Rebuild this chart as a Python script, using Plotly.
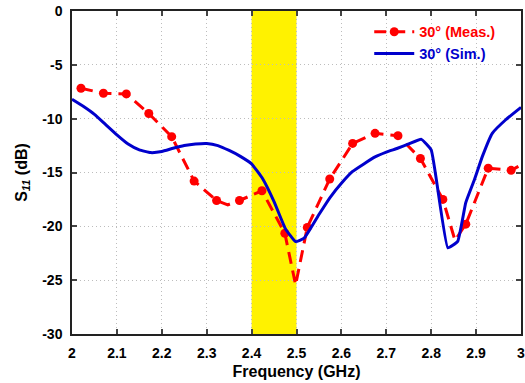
import plotly.graph_objects as go

# Measured S11 of the 30° configuration (GHz, dB)
meas_freq = [2.020, 2.070, 2.121, 2.171, 2.222, 2.272, 2.322, 2.347, 2.373, 2.423,
             2.474, 2.498, 2.524, 2.574, 2.625, 2.675, 2.726, 2.776, 2.826, 2.853,
             2.877, 2.927, 2.978, 3.000]
meas_s11 = [-7.18, -7.64, -7.70, -9.52, -11.67, -15.80, -17.60, -18.00, -17.60, -16.70,
            -20.64, -25.44, -20.10, -15.60, -12.30, -11.36, -11.58, -13.70, -17.50, -21.30,
            -19.80, -14.60, -14.80, -14.30]
# True where a sample carries a circle marker
meas_marked = [True, True, True, True, True, True, True, False, True, True,
               True, False, True, True, True, True, True, True, True, False,
               True, True, True, False]

# Simulated S11 of the 30° configuration (GHz, dB)
sim_freq = [2.000, 2.025, 2.050, 2.075, 2.100, 2.125, 2.150, 2.175, 2.200, 2.225,
            2.250, 2.275, 2.300, 2.325, 2.350, 2.375, 2.400, 2.425, 2.450, 2.475,
            2.498, 2.517, 2.550, 2.575, 2.600, 2.625, 2.650, 2.675, 2.700, 2.725,
            2.750, 2.778, 2.800, 2.837, 2.859, 2.877, 2.896, 2.914, 2.936, 2.966,
            3.000]
sim_s11 = [-8.20, -8.85, -9.60, -10.55, -11.50, -12.35, -12.90, -13.15, -13.05, -12.75,
           -12.50, -12.35, -12.30, -12.50, -12.95, -13.50, -14.20, -15.60, -17.70, -20.20,
           -21.42, -21.10, -18.90, -17.30, -16.00, -14.90, -14.20, -13.55, -13.10, -12.75,
           -12.35, -11.92, -12.90, -22.00, -21.40, -17.80, -15.70, -13.50, -11.36, -10.10,
           -8.95]

# Band of interest (GHz)
band = [2.4, 2.5]

x_ticks = [2.0, 2.1, 2.2, 2.3, 2.4, 2.5, 2.6, 2.7, 2.8, 2.9, 3.0]
x_labels = ["2", "2.1", "2.2", "2.3", "2.4", "2.5", "2.6", "2.7", "2.8", "2.9", "3"]
y_ticks = [0, -5, -10, -15, -20, -25, -30]
y_labels = ["0", "-5", "-10", "-15", "-20", "-25", "-30"]

RED = "#FF0000"
BLUE = "#0000CC"
FONT = "Arial, Liberation Sans, sans-serif"

fig = go.Figure()

fig.add_shape(type="rect", xref="x", yref="y",
              x0=band[0], x1=band[1], y0=y_ticks[-1], y1=y_ticks[0],
              fillcolor="#FFF200", line_width=0, layer="below")

fig.add_trace(go.Scatter(
    x=meas_freq, y=meas_s11, mode="lines+markers",
    name=f"<span style='color:{RED}'>30° (Meas.)</span>",
    line=dict(color=RED, width=3, dash="12px,7px"),
    marker=dict(size=9, symbol="circle",
                color=[RED if m else "rgba(0,0,0,0)" for m in meas_marked]),
    legendrank=1,
))
fig.add_trace(go.Scatter(
    x=sim_freq, y=sim_s11, mode="lines",
    name=f"<span style='color:{BLUE}'>30° (Sim.)</span>",
    line=dict(color=BLUE, width=3, shape="spline", smoothing=0.35),
    legendrank=2,
))

axis_common = dict(
    showline=True, linecolor="#222222", linewidth=1.5, mirror="ticks",
    ticks="inside", ticklen=5, tickwidth=1.5, tickcolor="#444444",
    showgrid=True, gridcolor="#BDBDBD", gridwidth=1, griddash="1px,3px",
    zeroline=False,
    tickfont=dict(family=FONT, size=14, color="black", weight=700),
)

fig.update_xaxes(
    range=[2, 3], tickvals=x_ticks, ticktext=x_labels,
    ticklabeloverflow="allow",
    title=dict(text="Frequency (GHz)", standoff=6,
               font=dict(family=FONT, size=16, color="black", weight=700)),
    ticklabelstandoff=5,
    **axis_common,
)
fig.update_yaxes(
    range=[-30, 0], tickvals=y_ticks, ticktext=y_labels,
    title=dict(text="S<sub><i>11</i></sub> (dB)", standoff=11,
               font=dict(family=FONT, size=16, color="black", weight=700)),
    ticklabelstandoff=5,
    **axis_common,
)

fig.update_layout(
    width=525, height=383,
    margin=dict(l=72, r=0, t=11, b=49),
    plot_bgcolor="white", paper_bgcolor="white",
    showlegend=True,
    legend=dict(
        x=0.662, y=0.985, xanchor="left", yanchor="top",
        bgcolor="rgba(0,0,0,0)", borderwidth=0,
        font=dict(family=FONT, size=14.5, weight=700),
        itemwidth=40, tracegroupgap=0,
    ),
)

fig.write_html("out.html")
